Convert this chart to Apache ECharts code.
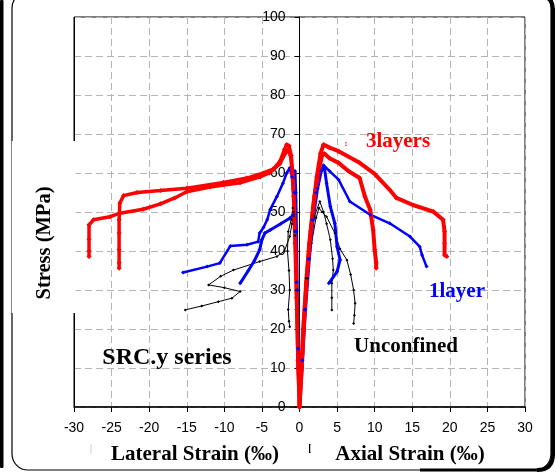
<!DOCTYPE html>
<html>
<head>
<meta charset="utf-8">
<script src="https://cdn.jsdelivr.net/npm/echarts@6/dist/echarts.min.js"></script>
<style>
  html, body { margin: 0; padding: 0; background: #fff; }
  #chart { width: 557px; height: 473px; }
</style>
</head>
<body>
<div id="chart"></div>
<script>
// stress-strain curves, [strain (permil), stress (MPa)], lateral strain negative
const unconfinedLatA = [[0,0],[-0.2,15],[-0.4,32],[-0.6,44],[-0.8,50],[-1.0,47],[-1.3,43.7],[-2.0,40],[-3.0,38.6],[-5.3,37.3],[-8.8,35.1],[-10.5,33.5],[-12.1,31.3],[-10,30.6],[-7.9,29.6],[-9.0,27.9],[-10.8,27.0],[-13.0,25.9],[-15.2,24.9]];
const unconfinedLatB = [[0,0],[-0.2,15],[-0.4,30],[-0.6,42],[-0.75,49],[-0.9,51],[-1.1,48],[-1.5,45],[-1.6,40],[-1.4,35],[-1.3,30],[-1.5,25],[-1.4,22],[-1.3,20.6]];
const unconfinedAxA = [[0,0],[0.2,10],[0.5,22],[0.9,33],[1.4,42],[2.0,49],[2.7,52.7],[3.2,50],[3.6,47],[4.1,42.9],[4.4,38],[4.5,35.1],[4.3,31.7],[4.3,28],[4.3,24.9]];
const unconfinedAxB = [[0,0],[0.3,10],[0.6,22],[1.1,33],[1.6,42],[2.2,48.5],[2.6,51],[3.0,50],[3.6,48.8],[4.7,44.6],[5.4,40.5],[6.3,37.7],[6.8,34],[7.2,30],[7.4,26.6],[7.3,23.5],[7.2,21.4]];

const oneLayerLatA = [[0,0],[-0.2,15],[-0.4,32],[-0.6,45],[-0.8,54],[-1.0,59],[-1.3,61.3],[-1.7,60],[-2.2,57.4],[-3.0,54],[-3.9,50.6],[-4.3,48],[-4.8,46],[-5.3,44.6],[-5.5,42.4],[-7,41.6],[-9.2,41.3],[-10.6,36.9],[-12.3,36],[-15.5,34.5]];
const oneLayerLatB = [[0,0],[-0.2,15],[-0.3,30],[-0.4,45],[-0.5,55],[-0.6,60.5],[-0.7,55],[-0.8,49.3],[-1.3,48.4],[-2.5,47],[-3.9,45.4],[-4.6,44.6],[-5.0,42.9],[-5.3,40.3],[-6.0,37.5],[-6.8,35],[-7.9,31.7]];
const oneLayerAxA = [[0,0],[0.3,12],[0.7,25],[1.2,38],[1.7,48],[2.2,55],[2.7,60],[3.2,62],[4.0,60.5],[5.2,58.3],[6.7,52.7],[9.4,49.3],[12,47.1],[14.7,43.7],[16.0,41.1],[16.3,39],[16.9,36.0]];
const oneLayerAxB = [[0,0],[0.4,12],[0.8,25],[1.3,38],[1.8,48],[2.4,56],[2.9,60.5],[3.3,61.5],[3.6,57.4],[4.1,51.4],[4.7,47.1],[5.0,41.1],[5.4,37.7],[5.0,34.7],[3.9,31.7]];

const threeLayersLatA = [[0,0],[-0.2,10],[-0.35,25],[-0.5,40],[-0.7,52],[-0.9,60],[-1.1,64.5],[-1.4,67],[-1.7,67.3],[-2.0,66],[-2.6,63],[-3.5,61],[-4.8,60],[-7.0,58.7],[-10.1,57.6],[-15.0,56.1],[-18.5,55.5],[-21.6,55.0],[-23.4,54.2],[-23.9,52.3],[-24,48],[-24,44.6],[-24,40.3],[-24,37],[-24,35.6]];
const threeLayersLatB = [[0,0],[-0.2,12],[-0.4,28],[-0.6,42],[-0.8,54],[-1.0,61],[-1.2,64.5],[-1.5,66],[-1.9,65],[-2.6,62.4],[-4,60],[-5.25,59],[-7.9,57.5],[-11.9,56.4],[-15.0,55.2],[-16.6,53.6],[-18.5,52.1],[-20.8,50.7],[-23.9,49.7],[-25.2,48.8],[-27.4,48.0],[-28,46.7],[-28,43],[-28,40],[-28,38.6]];
const threeLayersAxA = [[0,0],[0.2,8],[0.5,20],[0.9,32],[1.3,42],[1.8,51],[2.3,59],[2.8,65],[3.2,67.3],[4.0,66.5],[5.2,65.6],[8.0,62.6],[10,59.8],[12.0,55.7],[12.9,53.6],[15.1,51.8],[17.8,50.1],[19.1,48.0],[19.3,45],[19.3,42.0],[19.3,39.0],[19.6,38.6]];
const threeLayersAxB = [[0,0],[0.3,10],[0.6,22],[1.0,34],[1.5,45],[2.0,54],[2.5,60],[3.0,64.5],[3.3,65],[4.0,63.8],[5.2,62.6],[6.5,60.5],[8.0,58.7],[8.7,54.0],[9.4,50.6],[9.8,45.4],[10.0,40.3],[10.2,37],[10.2,35.6]];

const xTicks = { min: -30, max: 30, step: 5 };
const yTicks = { min: 0, max: 100, step: 10 };

const chart = echarts.init(document.getElementById('chart'));

const curve = (data, color, width, size) => ({
    type: 'line',
    data: data,
    symbol: 'diamond',
    symbolSize: size,
    itemStyle: { color: color },
    lineStyle: { color: color, width: width },
    silent: true,
    animation: false
});

const serifBold = { fontFamily: 'Liberation Serif', fontWeight: 'bold' };
const label = (x, y, text, size, color, extra) => Object.assign({
    type: 'text', z: 100, x: x, y: y, silent: true,
    style: Object.assign({ text: text, fontSize: size, fill: color, align: 'center', verticalAlign: 'middle' }, serifBold)
}, extra || {});

chart.setOption({
    animation: false,
    grid: {
        left: 74, right: 32, top: 17, bottom: 66,
        show: true, borderColor: '#000', borderWidth: 1
    },
    xAxis: {
        type: 'value',
        min: xTicks.min, max: xTicks.max, interval: xTicks.step,
        axisLine: { onZero: false, lineStyle: { color: '#000', width: 1.5 } },
        axisTick: { show: true, length: 5, lineStyle: { color: '#000' } },
        axisLabel: { color: '#000', fontFamily: 'Liberation Sans', fontSize: 14, margin: 14 },
        splitLine: { show: true, lineStyle: { color: '#b4b4b4', width: 1, type: [7, 4] } }
    },
    yAxis: {
        type: 'value',
        position: 'left',
        // the stress axis sits at zero strain, in the middle of the plot
        offset: -225.5,
        min: yTicks.min, max: yTicks.max, interval: yTicks.step,
        axisLine: { onZero: false, lineStyle: { color: '#000', width: 1 } },
        axisTick: { show: true, length: 5, lineStyle: { color: '#000' } },
        axisLabel: { color: '#000', fontFamily: 'Liberation Sans', fontSize: 14, margin: 14 },
        splitLine: { show: true, lineStyle: { color: '#b4b4b4', width: 1, type: [7, 4] } }
    },
    series: [
        curve(unconfinedLatA, '#000', 1, 3),
        curve(unconfinedLatB, '#000', 1, 3),
        curve(unconfinedAxA, '#000', 1, 3),
        curve(unconfinedAxB, '#000', 1, 3),
        curve(oneLayerLatA, '#0000ff', 2.5, 4),
        curve(oneLayerLatB, '#0000ff', 3, 4),
        curve(oneLayerAxA, '#0000ff', 2.5, 4),
        curve(oneLayerAxB, '#0000ff', 3, 4),
        curve(threeLayersLatA, '#ff0000', 3.5, 5),
        curve(threeLayersLatB, '#ff0000', 3.5, 5),
        curve(threeLayersAxA, '#ff0000', 4, 5),
        curve(threeLayersAxB, '#ff0000', 4, 5)
    ],
    graphic: [
        // outer frame
        { type: 'rect', z: 100, silent: true, shape: { x: 12, y: -8, width: 539, height: 478, r: 16 },
          style: { fill: 'none', stroke: '#000', lineWidth: 1.2 } },
        { type: 'line', z: 100, silent: true, shape: { x1: 553, y1: 8, x2: 553, y2: 456 },
          style: { stroke: '#000', lineWidth: 4 } },
        { type: 'bezierCurve', z: 100, silent: true, shape: { x1: 540, y1: -4, cpx1: 553, cpy1: -4, x2: 553, y2: 10 },
          style: { fill: 'none', stroke: '#000', lineWidth: 4 } },
        { type: 'bezierCurve', z: 100, silent: true, shape: { x1: 553, y1: 454, cpx1: 553, cpy1: 470, x2: 537, y2: 470 },
          style: { fill: 'none', stroke: '#000', lineWidth: 4 } },
        { type: 'line', z: 100, silent: true, shape: { x1: 420, y1: 470, x2: 539, y2: 470 },
          style: { stroke: '#000', lineWidth: 3 } },
        { type: 'rect', z: 100, silent: true, shape: { x: 0, y: 0, width: 3.5, height: 468, r: 1 },
          style: { fill: '#000' } },
        // plot's left border, broken behind the y title
        { type: 'line', z: 100, silent: true, shape: { x1: 74.5, y1: 17, x2: 74.5, y2: 141 },
          style: { stroke: '#000', lineWidth: 1 } },
        { type: 'line', z: 100, silent: true, shape: { x1: 74.5, y1: 313, x2: 74.5, y2: 407 },
          style: { stroke: '#000', lineWidth: 1 } },
        { type: 'rect', z: 100, silent: true, shape: { x: 72.5, y: 141, width: 3, height: 172 },
          style: { fill: '#fff' } },
        { type: 'rect', z: 100, silent: true, shape: { x: 10, y: 141, width: 4, height: 172 },
          style: { fill: '#fff' } },
        { type: 'line', z: 100, silent: true, shape: { x1: 11.5, y1: 141, x2: 11.5, y2: 313 },
          style: { stroke: '#888', lineWidth: 1 } },
        { type: 'line', z: 100, silent: true, shape: { x1: 91, y1: 444, x2: 91, y2: 454 },
          style: { stroke: '#ccc', lineWidth: 1 } },
        // titles
        label(45, 243, 'Stress (MPa)', 20.5, '#000', { rotation: Math.PI / 2 }),
        label(195, 455, 'Lateral Strain (‰)', 21, '#000'),
        label(410, 455, 'Axial Strain (‰)', 21, '#000'),
        label(310, 448, '[', 10, '#000'),
        // in-plot labels
        label(167, 358, 'SRC.y series', 24, '#000'),
        label(406, 347, 'Unconfined', 21, '#000'),
        label(457, 292, '1layer', 21, '#0000ff'),
        label(398, 142, '3layers', 21, '#ff0000'),
        label(346, 144, ':', 9, '#ff0000')
    ]
});
</script>
</body>
</html>
